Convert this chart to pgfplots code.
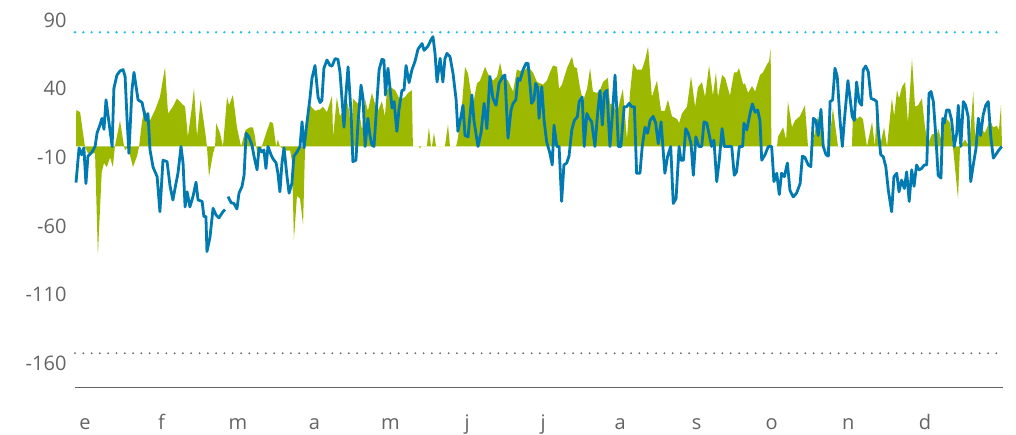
\documentclass[border=0pt]{standalone}
\usepackage{pgfplots}
\pgfplotsset{compat=1.18}
\usepackage{fontspec}
\setmainfont{Open Sans}
\definecolor{grn}{RGB}{156,184,0}
\definecolor{blu}{RGB}{0,122,176}
\definecolor{cyn}{RGB}{30,190,230}
\definecolor{lbl}{RGB}{100,100,100}
\begin{document}
\begin{tikzpicture}
\useasboundingbox (0,0) rectangle (1016pt,435pt);
\begin{axis}[
 at={(75pt,47.7pt)}, anchor=south west, scale only axis,
 width=928pt, height=387.3pt,
 xmin=0, xmax=365, ymin=-175.4, ymax=106.7,
 axis x line*=bottom, axis y line*=left,
 y axis line style={draw=none},
 x axis line style={-, draw=lbl, line width=1.4pt},
 major tick length=0pt,
 xtick={3.9,34.0,64.1,94.2,124.1,154.2,184.1,214.4,244.5,274.0,304.1,334.3},
 xticklabels={e,f,m,a,m,j,j,a,s,o,n,d},
 ytick={-160,-110,-60,-10,40,90},
 yticklabels={-160,-110,-60,-10,40,90},
 tick label style={font=\fontsize{20}{24}\selectfont, text=lbl},
 xticklabel style={anchor=base, yshift=-42.5pt},
 yticklabel style={anchor=east, xshift=-5pt, yshift=3pt},
 clip=false,
]
% green area
\addplot[draw=none, fill=grn] coordinates {
(0.4,0) (0.5,26.6) (2.0,25) (3.9,0) (5.1,-5) (7.9,-5) (9.0,-79) (10.5,-19) (11.4,-12) (12.5,-15) (13.8,-8) (14.9,-15) (15.7,0) (17.7,19) (19.3,0) (19.7,-3) (20.8,0) (22.8,-15) (24.4,-7) (25.2,0) (26.4,19) (27.5,26.6) (29.5,19) (31.5,26.6) (33.4,36) (35.4,57.7) (36.6,24) (38.5,29) (40.1,35) (42.1,31) (43.3,29) (44.4,7) (46.0,29) (46.8,42.4) (48.0,7) (49.4,34) (51.1,12) (51.9,0) (52.7,-22) (54.3,-5) (55.1,0) (55.5,17) (57.0,10) (58.2,0) (59.8,36) (60.6,30) (62.1,37.5) (63.7,14) (65.3,0) (67.1,12) (68.8,14) (70.0,14) (70.8,7) (72.0,-10) (73.5,0) (74.7,7) (76.7,18) (77.9,17) (79.1,0) (79.8,5) (80.6,0) (82.6,-3) (84.6,-3) (85.3,-10) (85.7,-36) (86.1,-68) (87.3,-36) (88.5,-38) (89.7,-57) (90.5,0) (91.2,17) (92.4,30) (94.4,26) (96.4,27) (97.5,29) (99.1,25) (101.1,37) (101.5,7) (103.0,36) (104.2,22) (105.4,26) (106.2,39) (107.8,26) (108.9,7) (109.3,35) (111.3,31) (112.9,12) (114.1,34) (115.2,26) (116.8,39) (118.0,31) (119.2,26) (120.7,33) (121.9,22) (122.7,41) (123.9,43.5) (125.9,41) (127.8,34) (129.8,36) (131.0,39) (132.5,41) (132.9,0) (135.3,0) (135.7,-1.5) (136.1,0) (138.4,0) (139.2,14) (140.0,0) (140.4,0) (141.2,10) (142.0,0) (145.5,0) (146.7,16) (147.5,0) (149.9,0) (150.6,6) (152.2,30) (153.4,58) (154.6,53) (156.5,30) (158.1,46) (159.3,48) (161.3,58) (162.4,53) (164.4,48) (166.0,51) (167.2,61) (168.3,51) (170.3,48) (172.3,40) (173.8,56) (175.0,55) (176.6,55) (178.2,58) (180.1,54) (181.7,47) (182.9,46) (184.1,45) (185.6,48) (186.8,54) (188.0,59) (189.6,58) (190.4,42) (191.5,45) (193.5,57) (194.7,62) (195.5,65.5) (196.3,58) (197.4,57) (198.6,43) (199.8,33) (201.4,42) (202.6,57) (203.7,40) (205.3,39) (206.5,41) (207.7,47) (209.6,50) (210.4,31) (211.6,31) (213.2,24) (214.4,34) (215.5,42) (217.1,5) (218.3,39) (219.5,60.6) (221.0,56) (223.0,56) (224.2,63) (225.4,72.7) (226.9,36) (228.9,48) (230.5,26) (232.0,26) (233.2,34) (234.8,22) (236.8,20) (237.6,17) (238.7,24) (240.7,29) (242.3,51) (243.9,29) (245.0,43) (246.6,47) (247.8,36) (249.4,59) (250.9,37) (252.1,54) (252.9,36) (254.5,52) (255.7,50) (257.6,37) (259.2,54) (260.4,54) (261.2,57) (262.8,45) (263.5,46) (264.7,39) (266.3,44) (267.5,40) (269.4,52) (270.6,54) (272.2,60) (273.0,62) (273.6,71.5) (273.9,0) (276.1,0) (276.5,7) (278.5,14) (279.7,5) (280.4,33) (282.0,14) (283.2,19) (285.1,22) (287.1,30) (288.3,0) (289.9,0) (292.2,22) (294.6,0) (296.5,0) (298.1,28) (300.1,0) (305.6,0) (306.0,26) (307.6,20) (308.7,22) (309.9,20) (311.5,0) (313.5,18) (314.6,0) (315.4,29) (316.6,0) (318.2,14) (319.4,0) (321.3,35) (322.2,22) (323.3,41) (324.1,35) (325.3,43.5) (326.5,47) (327.6,17) (329.2,64) (330.4,29) (331.6,30) (333.1,35) (334.3,14) (335.5,2) (337.1,9) (339.1,9) (339.5,13) (341.1,2) (342.2,22) (344.2,17) (345.3,0) (347.3,-38) (348.1,0) (350.1,5) (351.7,0) (353.3,40) (354.0,7) (355.2,22) (356.8,12) (357.9,10) (359.9,19) (361.1,14) (362.6,15) (363.4,12) (364.2,30) (364.6,0)
};
% reference lines
\addplot[cyn, line width=2.6pt, line cap=round, dash pattern=on 0pt off 8.3pt] coordinates {(0,83.2) (365,83.2)};
\addplot[lbl, line width=2pt, line cap=round, dash pattern=on 0pt off 8.3pt] coordinates {(0,-150.6) (365,-150.6)};
% blue line
\addplot[blu, line width=2.8pt, line join=round, unbounded coords=jump] coordinates {
(0.4,-26.3) (1.6,-1) (2.6,-6) (3.5,-1) (4.3,-27) (5.1,-7) (6.7,-4) (7.9,0) (8.7,10) (9.8,15.6) (10.6,20.5) (11.4,12.5) (12.2,34) (13.4,17) (14.6,0) (15.3,42.4) (16.5,52) (17.7,55) (18.9,56) (19.7,51) (20.5,19) (21.2,-5) (22.4,41) (23.2,54) (24.8,34) (26.4,32) (26.7,29) (27.9,19) (28.7,24) (29.5,-2.5) (30.7,-15) (32.3,-22) (33.4,-47.5) (34.6,-10) (36.2,-11) (37.4,-29) (38.5,-39) (39.7,-27) (40.5,-19.5) (41.7,0) (42.5,-12) (43.3,-44) (44.1,-33) (45.2,-44) (46.4,-36.5) (47.6,-26) (48.4,-39) (50.0,-40) (50.7,-51) (51.5,-51) (51.9,-76.5) (53.1,-66) (54.3,-45) (55.5,-50) (56.6,-52) (58.2,-47.5) (59.0,-46) (59.5,nan) (60.2,-36.5) (61.4,-41) (62.5,-41.5) (63.7,-45.5) (64.5,-34) (65.7,-29) (66.5,-21) (67.3,9.6) (68.4,7) (69.6,1) (70.4,-7) (71.6,-17) (72.4,-1) (73.5,-4) (74.3,-2.5) (75.1,-16) (75.9,0) (77.1,-6) (77.9,-9) (79.1,-12) (79.8,-19.5) (80.6,-33) (81.4,-12) (82.2,-1) (83.4,-22) (84.2,-34) (85.3,-27) (86.1,-7) (87.3,-4) (88.5,0) (89.3,18) (90.1,-1) (91.2,17) (92.4,35) (93.2,49.6) (94.4,59) (95.6,36) (96.4,32) (97.1,33.5) (97.9,57) (99.1,63) (100.3,59) (101.1,58.6) (102.3,64) (103.4,63.5) (104.2,54.5) (105.0,35) (105.8,14) (106.6,38.7) (107.4,58) (108.6,24) (109.3,-11) (110.5,-10) (111.3,17) (112.5,44.7) (113.3,35) (114.1,0) (115.2,20.5) (116.0,8) (116.8,1) (117.6,0) (118.8,34) (119.6,55.7) (120.7,63.5) (121.5,63) (122.1,37.5) (123.1,57) (124.7,28) (125.5,32.7) (126.6,11) (127.4,26.6) (128.6,41) (129.4,41) (130.2,59) (131.4,46.5) (132.5,55.7) (133.7,61.8) (134.9,70.8) (136.5,75) (137.3,70) (138.8,73) (140.0,77.6) (140.8,80) (141.6,67.8) (142.4,47) (143.6,64.2) (144.7,47) (145.5,64) (146.3,67.8) (147.5,65.4) (148.7,53) (149.9,34) (150.6,11) (151.8,21.7) (152.6,30) (153.4,8) (154.6,7) (156.1,37.5) (156.9,19) (158.5,0) (159.7,10) (160.9,31.4) (162.0,13) (163.2,51) (164.4,35) (165.6,30) (166.8,46) (168.3,51) (169.1,52) (170.3,6) (171.5,26.6) (172.3,31.4) (173.4,34) (174.2,49.6) (175.0,48) (176.2,55.7) (177.4,60.6) (178.2,60.6) (179.6,31.4) (180.5,34) (181.2,46) (182.0,43) (182.5,20.5) (183.6,43.5) (184.5,19) (185.5,3.5) (186.8,-5) (187.7,-13.5) (188.4,15.6) (189.5,0) (190.4,0) (191.4,-40) (192.3,-13.5) (193.4,-12) (194.3,-7) (195.4,12) (196.4,19) (197.6,21.7) (198.3,32.7) (199.5,36) (200.3,0) (201.3,24) (202.2,20.5) (203.2,18) (204.5,0) (205.6,25) (206.5,40.7) (207.4,15.6) (208.2,38.7) (209.2,41) (210.4,0) (211.3,21.7) (212.4,52) (213.1,26.6) (213.7,0) (214.7,0) (216.0,29) (217.0,29) (218.0,31.4) (218.9,29) (220.0,29) (220.9,-19.5) (222.2,-19.5) (223.1,0) (224.2,14) (225.2,9.6) (226.2,19) (227.4,22) (228.4,17) (229.4,2) (230.5,18) (232.0,-19.5) (233.1,-7) (234.3,0) (235.3,-41.5) (236.4,-38) (237.6,0) (238.3,-10) (239.3,-10) (240.2,13) (241.2,9.6) (242.3,2) (243.2,-21) (244.2,7) (245.4,0) (246.5,0) (247.4,18) (248.5,17) (249.5,8) (250.4,0) (251.3,4.7) (252.4,-25.6) (253.4,-10) (254.5,13) (255.4,0) (258.3,0) (259.3,-21) (260.2,-18.5) (261.3,0) (262.6,0) (263.1,17) (264.2,12) (265.5,24) (266.4,31) (267.5,25) (268.5,26.6) (269.4,19) (270.1,-10) (271.4,-6) (272.7,0) (274.0,0) (274.9,-25.6) (276.0,-19.5) (277.0,-35) (277.9,-19.5) (279.0,-22) (280.2,-12) (281.2,-32) (282.5,-36.7) (283.8,-34) (285.2,-27) (286.1,-7) (287.1,-8) (288.4,-13.5) (289.4,-14.7) (290.4,20.5) (291.4,19) (292.3,8) (293.4,27) (294.3,0) (295.4,-6) (296.3,-7) (297.0,32.7) (298.0,34) (298.9,57) (299.8,51) (300.9,19) (301.8,0) (302.6,19) (304.0,48) (304.8,36) (305.7,21.7) (306.5,19) (307.4,47) (308.4,32.7) (309.4,30) (310.0,55.7) (311.0,58.6) (312.0,54.5) (313.1,35) (314.4,34) (315.3,32.7) (315.9,13) (316.9,-6) (317.9,-7.5) (318.9,-14.7) (319.9,-32) (321.2,-47.5) (322.1,-22) (323.2,-19.5) (324.1,-33) (325.1,-24.5) (326.2,-30.6) (327.1,-18.5) (328.1,-40) (329.1,-17) (330.0,-29) (331.0,-13.5) (332.0,-17) (333.0,-16) (334.0,-13.5) (335.0,-13.5) (335.9,38.7) (336.7,40) (337.6,32.7) (338.5,9.6) (339.5,-21) (340.6,-23) (341.3,20.5) (341.9,17) (342.8,26.6) (343.8,26.6) (344.8,19) (345.8,0) (346.8,9.6) (347.4,30) (348.4,0) (349.4,32.7) (350.3,30) (351.3,21.7) (352.3,-25.6) (353.3,-13.5) (354.4,-1) (355.3,20.5) (356.2,8) (357.2,23) (358.2,30) (359.2,32.7) (360.2,7) (361.2,-8.5) (362.5,-5) (363.4,-2.5) (364.5,0)
};
\end{axis}
\end{tikzpicture}
\end{document}
